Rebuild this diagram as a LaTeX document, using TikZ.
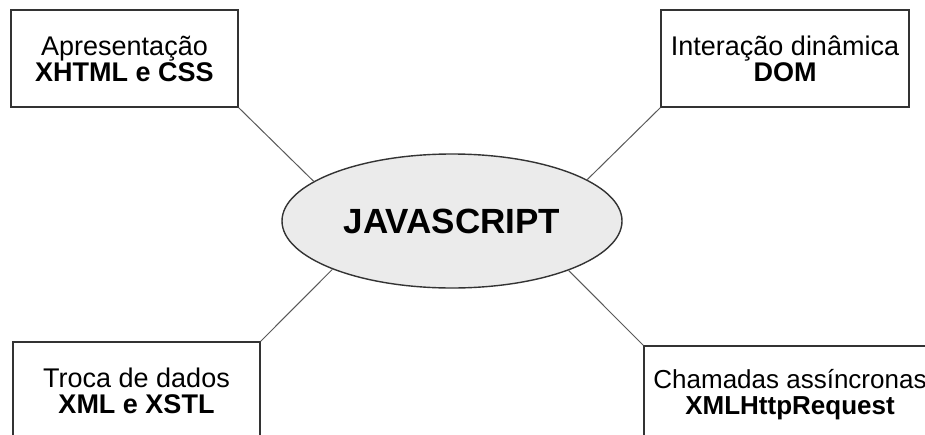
\documentclass[tikz,border=0pt]{standalone}
\usepackage{fontspec}
\setmainfont{Liberation Sans}
\usetikzlibrary{shapes.geometric}
\begin{document}
\begin{tikzpicture}[x=1pt,y=-1pt,
  box/.style={draw=black!80, line width=1.4pt, fill=white, inner sep=0pt,
    minimum height=97pt, align=center, font=\fontsize{27}{26}\selectfont},
  link/.style={draw=black!65, line width=1pt},
  hub/.style={ellipse, draw=black!80, line width=1.4pt, fill=black!8,
    minimum width=340pt, minimum height=134pt, inner sep=0pt,
    font=\bfseries\fontsize{35}{35}\selectfont}]
\useasboundingbox (0,0) rectangle (925,434);
\clip (0,0) rectangle (925,434);
\fill[white] (0,0) rectangle (925,434);
\node[hub] (js) at (452,221) {JAVASCRIPT};
\node[box, minimum width=227pt] (tl) at (124.5,58.5) {Apresentação\\\textbf{XHTML e CSS}};
\node[box, minimum width=248pt] (tr) at (785,58.5) {Interação dinâmica\\\textbf{DOM}};
\node[box, minimum width=247pt] (bl) at (136.5,390.5) {Troca de dados\\\textbf{XML e XSTL}};
\node[box, minimum width=292pt, font=\fontsize{26}{26}\selectfont] (br) at (790,394.5) {Chamadas assíncronas\\\textbf{XMLHttpRequest}};
\draw[link] (tl.south east) -- (js.164.7);
\draw[link] (tr.south west) -- (js.17.1);
\draw[link] (bl.north east) -- (js.202.7);
\draw[link] (br.north west) -- (js.-23);
\end{tikzpicture}
\end{document}
